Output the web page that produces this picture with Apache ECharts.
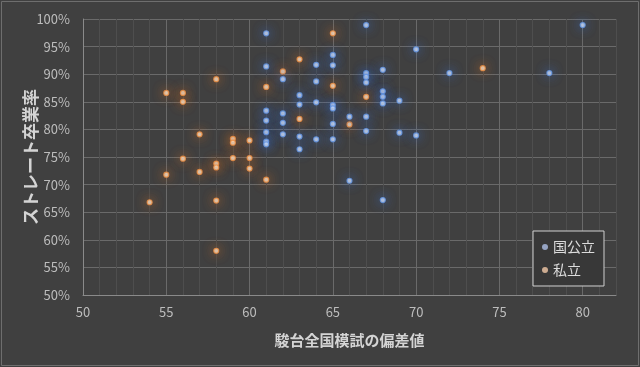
<!DOCTYPE html>
<html><head><meta charset="utf-8">
<script src="https://cdn.jsdelivr.net/npm/echarts@6/dist/echarts.min.js"></script>
<style>html,body{margin:0;padding:0;background:#404040;}#c{width:640px;height:367px;}</style>
</head><body><div id="c"></div>
<script>
const seriesNames = ['国公立', '私立'];
const xTitle = '駿台全国模試の偏差値';
const yTitle = 'ストレート卒業率';
// [偏差値, 卒業率%]
const kokkoritsu = [
  [61,97.4],[61,91.4],[61,83.4],[61,81.6],[61,79.5],[61,77.8],[61,77.3],
  [62,89.1],[62,82.9],[62,81.2],[62,79.1],
  [63,86.2],[63,84.5],[63,78.7],[63,76.4],
  [64,91.7],[64,88.7],[64,84.9],[64,78.2],
  [65,93.5],[65,91.6],[65,84.4],[65,83.8],[65,81.0],[65,78.2],
  [66,82.3],[66,70.7],
  [67,98.9],[67,90.2],[67,89.5],[67,88.5],[67,82.3],[67,79.7],
  [68,90.8],[68,86.9],[68,85.9],[68,84.7],[68,67.2],
  [69,85.2],[69,79.4],
  [70,94.5],[70,78.9],
  [72,90.2],[78,90.2],[80,98.9]
];
const shiritsu = [
  [54,66.8],[55,86.6],[55,71.8],[56,86.6],[56,85.0],[56,74.7],[57,79.1],[57,72.3],
  [58,89.1],[58,73.8],[58,73.1],[58,67.1],[58,58.0],
  [59,78.3],[59,77.6],[59,74.8],
  [60,78.0],[60,74.8],[60,72.9],
  [61,87.7],[61,70.9],
  [62,90.5],[63,92.7],[63,81.9],
  [65,97.4],[65,87.9],[66,80.9],[67,85.9],[74,91.1]
];
const xMin = 50, xMax = 82, yMin = 50, yMax = 100;

const FONT = '"Noto Sans CJK JP", "Noto Sans", sans-serif';
const chart = echarts.init(document.getElementById('c'), null, {renderer: 'canvas'});
const major = '#6a6a6a', minor = '#4e4e4e';
chart.setOption({
  backgroundColor: '#404040',
  animation: false,
  textStyle: {fontFamily: FONT},
  graphic: [{type: 'rect', shape: {x: 1.5, y: 1.5, width: 637, height: 364}, style: {fill: 'none', stroke: '#6e6e6e', lineWidth: 1}, silent: true}],
  grid: {left: 83, top: 19, width: 533, height: 276, containLabel: false},
  xAxis: {
    type: 'value', min: xMin, max: xMax, interval: 1,
    name: xTitle, nameLocation: 'middle', nameGap: 38,
    nameTextStyle: {color: '#d4d4d4', fontSize: 15, fontWeight: 'bold', fontFamily: FONT},
    axisLine: {show: true, lineStyle: {color: '#8a8a8a', width: 1}},
    axisTick: {show: false},
    axisLabel: {color: '#bdbdbd', fontSize: 13, margin: 11, fontFamily: FONT,
      formatter: v => (v % 5 === 0 ? String(v) : '')},
    splitLine: {show: true, lineStyle: {color: [major, minor, minor, minor, minor], width: 1}}
  },
  yAxis: {
    type: 'value', min: yMin, max: yMax, interval: 5,
    name: yTitle, nameLocation: 'middle', nameGap: 44, nameRotate: 90, nameMoveOverlap: false,
    nameTextStyle: {color: '#d4d4d4', fontSize: 17, fontWeight: 'bold', fontFamily: FONT},
    axisLine: {show: true, lineStyle: {color: '#8a8a8a', width: 1}},
    axisTick: {show: false},
    axisLabel: {color: '#bdbdbd', fontSize: 13, margin: 13, fontFamily: FONT, formatter: v => v + '%'},
    splitLine: {show: true, lineStyle: {color: major, width: 1}}
  },
  legend: {
    orient: 'vertical', left: 533, top: 231,
    padding: [9, 9, 9, 9], itemGap: 9, itemWidth: 6, itemHeight: 6,
    backgroundColor: '#383838', borderColor: '#d0d0d0', borderWidth: 1,
    textStyle: {color: '#dcdcdc', fontSize: 14, fontFamily: FONT},
    data: [
      {name: seriesNames[0], icon: 'circle', itemStyle: {color: '#aebfe6', borderWidth: 0, shadowBlur: 0}},
      {name: seriesNames[1], icon: 'circle', itemStyle: {color: '#f2c9a8', borderWidth: 0, shadowBlur: 0}}
    ]
  },
  series: [
    {name: seriesNames[1], type: 'scatter', data: shiritsu, symbolSize: 5, z: 2,
     itemStyle: {color: '#ffe6cc', borderColor: '#ec8e42', borderWidth: 1.2, shadowColor: 'rgba(225,115,35,1)', shadowBlur: 11}},
    {name: seriesNames[0], type: 'scatter', data: kokkoritsu, symbolSize: 5, z: 3,
     itemStyle: {color: '#d6e4fb', borderColor: '#6496e4', borderWidth: 1.2, shadowColor: 'rgba(55,115,225,1)', shadowBlur: 11}}
  ]
});
</script></body></html>
